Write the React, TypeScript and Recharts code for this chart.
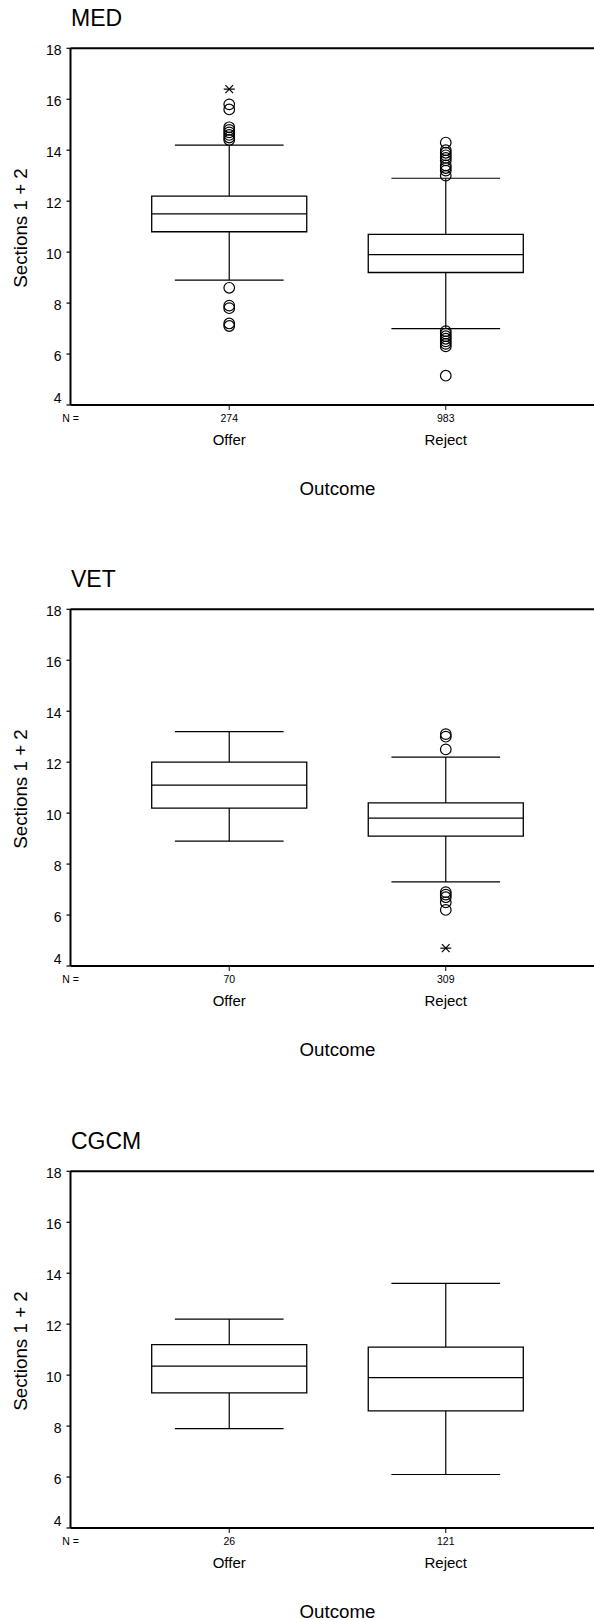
import React from 'react';
import { ComposedChart, XAxis, YAxis, ReferenceArea, ReferenceLine, Scatter, Label } from 'recharts';

// ---- data ----
const panelNames = ['MED', 'VET', 'CGCM'];
const categories = ['Offer', 'Reject'];
const categoryPositions = [1, 2];
const nCounts = [[274, 983], [70, 309], [26, 121]];
const lowerWhiskers = [[8.9, 7.0], [8.9, 7.3], [7.9, 6.1]];
const q1Values = [[10.8, 9.2], [10.2, 9.1], [9.3, 8.6]];
const medianValues = [[11.5, 9.9], [11.1, 9.8], [10.35, 9.9]];
const q3Values = [[12.2, 10.7], [12.0, 10.4], [11.2, 11.1]];
const upperWhiskers = [[14.2, 12.9], [13.2, 12.2], [12.2, 13.6]];
const outlierValues = [
  [
    [14.4, 14.5, 14.6, 14.7, 14.8, 14.9, 15.6, 15.8, 8.6, 7.9, 7.8, 7.2, 7.1],
    [14.3, 14.0, 13.9, 13.8, 13.7, 13.6, 13.4, 13.3, 13.2, 13.0, 6.9, 6.8, 6.7, 6.6, 6.5, 6.4, 6.3, 5.15],
  ],
  [
    [],
    [13.1, 13.0, 12.5, 6.9, 6.8, 6.7, 6.5, 6.2],
  ],
  [[], []],
];
const extremeValues = [
  [[16.4], []],
  [[], [4.7]],
  [[], []],
];
const yTicks = [4, 6, 8, 10, 12, 14, 16, 18];
const yDomain: [number, number] = [4, 18];
const xDomain: [number, number] = [0.267, 2.733];

// ---- style constants ----
const FONT = 'Liberation Sans, Arial, Helvetica, sans-serif';
const BOX_HALF = 0.358;
const CAP_HALF = 0.251;
const PANEL_STEP = 561.35;
const LINE = '#000';

const renderOutlier = (props: any) => {
  const { cx, cy, payload } = props;
  if (cx == null || cy == null) return <g />;
  if (payload.kind === 'extreme') {
    return (
      <g stroke={LINE} strokeWidth={1.2}>
        <line x1={cx - 5.5} x2={cx + 5.5} y1={cy} y2={cy} />
        <line x1={cx - 3.8} y1={cy - 4} x2={cx + 3.8} y2={cy + 4} />
        <line x1={cx - 3.8} y1={cy + 4} x2={cx + 3.8} y2={cy - 4} />
      </g>
    );
  }
  return <circle cx={cx} cy={cy} r={5.3} fill="none" stroke={LINE} strokeWidth={1.2} />;
};

const makeXTick = (counts: number[]) => (props: any) => {
  const { x, y, payload } = props;
  const idx = categoryPositions.indexOf(payload.value);
  if (idx < 0) {
    return (
      <text x={x} y={y + 17} textAnchor="middle" fontSize={10.5} fontFamily={FONT} fill="#000">
        N =
      </text>
    );
  }
  return (
    <g>
      <line x1={x} x2={x} y1={y} y2={y + 5} stroke={LINE} strokeWidth={1} />
      <text x={x} y={y + 17} textAnchor="middle" fontSize={10.5} fontFamily={FONT} fill="#000">
        {counts[idx]}
      </text>
      <text x={x} y={y + 40.4} textAnchor="middle" fontSize={15} fontFamily={FONT} fill="#000">
        {categories[idx]}
      </text>
    </g>
  );
};

const YTick = (props: any) => {
  const { x, y, payload } = props;
  const shift = payload.value === 4 ? -7 : 1.5;
  return (
    <text x={x} y={y + shift} dy="0.355em" textAnchor="end" fontSize={14} fontFamily={FONT} fill="#000">
      {payload.value}
    </text>
  );
};

const OutcomeLabel = (props: any) => {
  const vb = props.viewBox || { x: 70.5, y: 405, width: 534, height: 105 };
  return (
    <text x={vb.x + vb.width / 2} y={vb.y + 89.7} textAnchor="middle" fontSize={18.7} fontFamily={FONT} fill="#000">
      Outcome
    </text>
  );
};

const SectionsLabel = () => {
  const cx = 27.2;
  const cy = 228;
  return (
    <text x={cx} y={cy} transform={`rotate(-90, ${cx}, ${cy})`} textAnchor="middle" fontSize={18.8} fontFamily={FONT} fill="#000">
      Sections 1 + 2
    </text>
  );
};

function Panel({ index }: { index: number }) {
  const boxes = categoryPositions.map((x, i) => ({
    x,
    low: lowerWhiskers[index][i],
    q1: q1Values[index][i],
    median: medianValues[index][i],
    q3: q3Values[index][i],
    high: upperWhiskers[index][i],
  }));
  const points: { x: number; y: number; kind: string }[] = [];
  categoryPositions.forEach((x, i) => {
    outlierValues[index][i].forEach((v) => points.push({ x, y: v, kind: 'outlier' }));
    extremeValues[index][i].forEach((v) => points.push({ x, y: v, kind: 'extreme' }));
  });
  const xTicks = [xDomain[0], ...categoryPositions];

  return (
    <div style={{ position: 'absolute', left: 0, top: index * PANEL_STEP, width: 605, height: 561 }}>
      <svg width={594} height={60} style={{ position: 'absolute', left: 0, top: 0 }}>
        <text x={71} y={26} fontSize={23} fontFamily={FONT} fill="#000">
          {panelNames[index]}
        </text>
      </svg>
      <ComposedChart
        width={605}
        height={510}
        data={boxes}
        margin={{ top: 48.3, right: 0.5, bottom: 0, left: 10.5 }}
      >
        <XAxis
          type="number"
          dataKey="x"
          domain={xDomain}
          ticks={xTicks}
          interval={0}
          allowDataOverflow
          height={105}
          tickLine={false}
          tickSize={0}
          tickMargin={0}
          axisLine={{ stroke: LINE, strokeWidth: 2 }}
          tick={makeXTick(nCounts[index])}
        >
          <Label content={OutcomeLabel} />
        </XAxis>
        <YAxis
          type="number"
          domain={yDomain}
          ticks={yTicks}
          interval={0}
          allowDataOverflow
          width={60}
          tickSize={4}
          tickMargin={5}
          axisLine={{ stroke: LINE, strokeWidth: 2 }}
          tickLine={{ stroke: LINE, strokeWidth: 1.2 }}
          tick={YTick}
        >
          <Label content={SectionsLabel} />
        </YAxis>
        <ReferenceLine y={18} stroke={LINE} strokeWidth={2} />
        {boxes.map((b) => (
          <ReferenceLine
            key={`wu${b.x}`}
            segment={[{ x: b.x, y: b.q3 }, { x: b.x, y: b.high }]}
            stroke={LINE}
            strokeWidth={1.2}
          />
        ))}
        {boxes.map((b) => (
          <ReferenceLine
            key={`wl${b.x}`}
            segment={[{ x: b.x, y: b.q1 }, { x: b.x, y: b.low }]}
            stroke={LINE}
            strokeWidth={1.2}
          />
        ))}
        {boxes.map((b) => (
          <ReferenceLine
            key={`cu${b.x}`}
            segment={[{ x: b.x - CAP_HALF, y: b.high }, { x: b.x + CAP_HALF, y: b.high }]}
            stroke={LINE}
            strokeWidth={1.2}
          />
        ))}
        {boxes.map((b) => (
          <ReferenceLine
            key={`cl${b.x}`}
            segment={[{ x: b.x - CAP_HALF, y: b.low }, { x: b.x + CAP_HALF, y: b.low }]}
            stroke={LINE}
            strokeWidth={1.2}
          />
        ))}
        {boxes.map((b) => (
          <ReferenceArea
            key={`box${b.x}`}
            x1={b.x - BOX_HALF}
            x2={b.x + BOX_HALF}
            y1={b.q1}
            y2={b.q3}
            fill="#fff"
            fillOpacity={1}
            stroke={LINE}
            strokeWidth={1.3}
          />
        ))}
        {boxes.map((b) => (
          <ReferenceLine
            key={`md${b.x}`}
            segment={[{ x: b.x - BOX_HALF, y: b.median }, { x: b.x + BOX_HALF, y: b.median }]}
            stroke={LINE}
            strokeWidth={1.3}
          />
        ))}
        <Scatter data={points} dataKey="y" shape={renderOutlier} isAnimationActive={false} />
      </ComposedChart>
    </div>
  );
}

export default function App() {
  return (
    <div
      style={{
        position: 'absolute',
        left: 0,
        top: 0,
        width: 594,
        height: 1620,
        overflow: 'hidden',
        background: '#fff',
      }}
    >
      {panelNames.map((_, i) => (
        <Panel key={i} index={i} />
      ))}
    </div>
  );
}
